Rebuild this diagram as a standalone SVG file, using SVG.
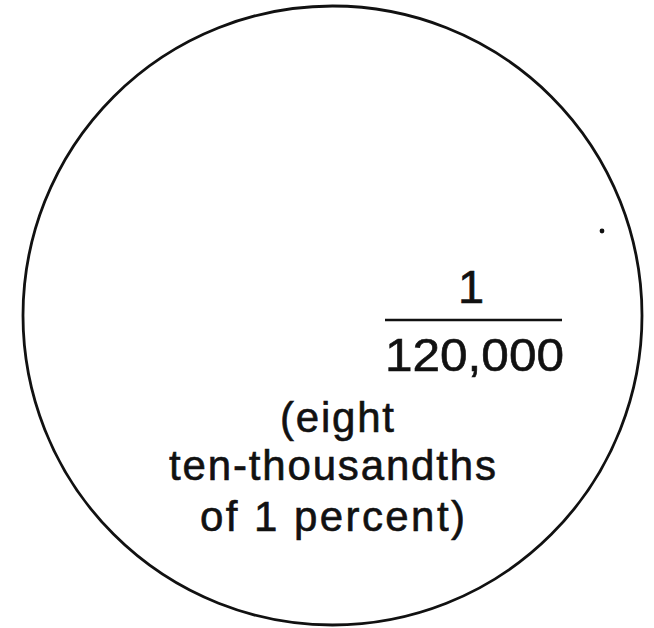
<svg xmlns="http://www.w3.org/2000/svg" width="654" height="628" viewBox="0 0 654 628">
<style>
.lbl{font-family:"Liberation Sans",Arial,sans-serif;fill:#111;stroke:#111;stroke-width:0.6;}
.big{font-size:47px;}
.txt{font-size:42px;}
</style>
<rect width="654" height="628" fill="#fff"/>
<g id="circle-node">
<circle cx="332.5" cy="315.5" r="309.5" fill="none" stroke="#111" stroke-width="2.8"/>
<text class="lbl big" x="471" y="303" text-anchor="middle">1</text>
<line x1="385" y1="320" x2="562" y2="320" stroke="#111" stroke-width="2.4"/>
<text class="lbl big" x="385" y="371" textLength="179" lengthAdjust="spacingAndGlyphs">120,000</text>
<text class="lbl txt" x="280" y="432" textLength="114" lengthAdjust="spacing">(eight</text>
<text class="lbl txt" x="169" y="480" textLength="327" lengthAdjust="spacing">ten-thousandths</text>
<text class="lbl txt" x="200" y="531" textLength="265" lengthAdjust="spacing">of 1 percent)</text>
</g>
<g id="connectors"></g>
<circle cx="602" cy="231" r="2.4" fill="#111"/>
</svg>
